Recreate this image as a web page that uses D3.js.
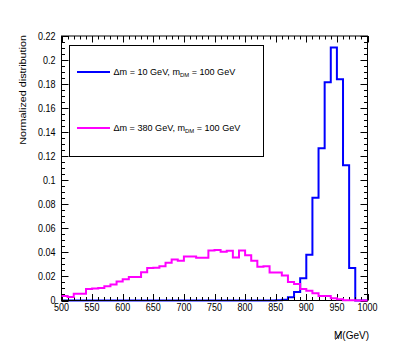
<!DOCTYPE html>
<html>
<head>
<meta charset="utf-8">
<script src="https://cdn.jsdelivr.net/npm/d3@7"></script>
<style>
html,body{margin:0;padding:0;background:#fff;}
svg{display:block;}
text{font-family:"Liberation Sans",Arial,Helvetica,sans-serif;fill:#000;}
</style>
</head>
<body>
<svg id="chart" width="409" height="354"></svg>
<script>
// ---- data ----
const binEdges = d3.range(500, 1001, 10); // 50 bins of 10 GeV
const seriesNames = ["\u0394m = 10 GeV, m", "\u0394m = 380 GeV, m"];
const seriesColors = ["#0000ff", "#ff00ff"];
const blueValues = [
  0,0,0,0,0,0,0,0,0,0,
  0,0,0,0,0,0,0,0,0,0,
  0,0,0,0,0,0,0,0,0,0,
  0,0,0,0,0,0.0002,0.0006,0.0027,0.0070,0.0185,
  0.0380,0.0855,0.1266,0.1815,0.2105,0.1840,0.1125,0.0270,0,0
];
const pinkValues = [
  0.0037,0.0030,0.0057,0.0057,0.0096,0.0100,0.0104,0.0118,0.0134,0.0157,
  0.0176,0.0195,0.0195,0.0234,0.0270,0.0273,0.0285,0.0313,0.0340,0.0331,
  0.0365,0.0365,0.0356,0.0356,0.0415,0.0420,0.0406,0.0414,0.0357,0.0415,
  0.0376,0.0331,0.0280,0.0284,0.0232,0.0232,0.0207,0.0154,0.0137,0.0095,
  0.0082,0.0061,0.0037,0.0037,0.0018,0.0011,0.0003,0.0002,0.0001,0.0001
];
const xTickLabels = [500,550,600,650,700,750,800,850,900,950,1000];
const yTickValues = [0,0.02,0.04,0.06,0.08,0.1,0.12,0.14,0.16,0.18,0.2,0.22];
const yTickLabels = ["0","0.02","0.04","0.06","0.08","0.1","0.12","0.14","0.16","0.18","0.2","0.22"];
const yTitle = "Normalized distribution";
const xTitleMain = "M";
const xTitleUnit = "(GeV)";

// ---- layout ----
const svg = d3.select("#chart");
const L = 61.5, R = 367.5, T = 36, B = 300.5;
const x = d3.scaleLinear().domain([500, 1000]).range([L, R]);
const y = d3.scaleLinear().domain([0, 0.22]).range([B, T]);

function histPath(values) {
  const pts = values.map((v, i) => [binEdges[i], v]);
  pts.push([binEdges[values.length], values[values.length - 1]]);
  return d3.line().x(d => x(d[0])).y(d => y(d[1])).curve(d3.curveStepAfter)(pts);
}

// blue histogram (drawn first)
svg.append("path").attr("d", histPath(blueValues))
  .attr("fill", "none").attr("stroke", seriesColors[0]).attr("stroke-width", 2);

// frame
svg.append("rect").attr("x", L).attr("y", T).attr("width", R - L).attr("height", B - T)
  .attr("fill", "none").attr("stroke", "#000").attr("stroke-width", 1);

// ticks
const tk = svg.append("g").attr("stroke", "#000").attr("stroke-width", 1);
d3.range(500, 1001, 10).forEach(v => {
  const major = v % 50 === 0;
  const len = major ? 6.5 : 3.5;
  const px = Math.round(x(v)) + 0.5;
  tk.append("line").attr("x1", px).attr("x2", px).attr("y1", B).attr("y2", B - len);
  tk.append("line").attr("x1", px).attr("x2", px).attr("y1", T).attr("y2", T + len);
});
d3.range(0, 45).forEach(i => {
  const v = i * 0.005;
  if (v > 0.2201) return;
  const major = i % 4 === 0;
  const len = major ? 7 : 3.5;
  const py = Math.round(y(v)) + 0.5;
  tk.append("line").attr("x1", L).attr("x2", L + len).attr("y1", py).attr("y2", py);
  tk.append("line").attr("x1", R).attr("x2", R - len).attr("y1", py).attr("y2", py);
});

// pink histogram (drawn on top)
svg.append("path").attr("d", histPath(pinkValues))
  .attr("fill", "none").attr("stroke", seriesColors[1]).attr("stroke-width", 2);

// tick labels
xTickLabels.forEach(v => {
  svg.append("text").attr("x", x(v)).attr("y", 311).attr("text-anchor", "middle")
    .attr("font-size", 10)
    .attr("transform", `translate(${x(v)},0) scale(0.9,1) translate(${-x(v)},0)`)
    .text(v);
});
yTickValues.forEach((v, i) => {
  svg.append("text").attr("x", 55.5).attr("y", y(v) + 3.6).attr("text-anchor", "end")
    .attr("font-size", 10)
    .attr("transform", `translate(55.5,0) scale(0.9,1) translate(-55.5,0)`)
    .text(yTickLabels[i]);
});

// axis titles
const yt = svg.append("text").attr("text-anchor", "end").attr("font-size", 9.5)
  .attr("transform", "translate(26,35) rotate(-90)").text(yTitle);
{
  const w = yt.node().getComputedTextLength();
  yt.attr("transform", `translate(26,35) rotate(-90) scale(${110 / w},1)`);
}
// x title: slashed M followed by unit
const xt = svg.append("text").attr("x", 369).attr("y", 339).attr("text-anchor", "end")
  .attr("font-size", 10);
xt.append("tspan").text(xTitleMain);
xt.append("tspan").text(xTitleUnit);
{
  const bb = xt.node().getBBox();
  const mW = xt.node().getSubStringLength(0, 1);
  // slash drawn across the M
  svg.append("line")
    .attr("x1", bb.x + 1.5).attr("y1", 339.5)
    .attr("x2", bb.x + mW - 0.5).attr("y2", 331.5)
    .attr("stroke", "#000").attr("stroke-width", 1);
}

// legend
const lg = svg.append("g");
lg.append("rect").attr("x", 69.5).attr("y", 45.5).attr("width", 194).attr("height", 111)
  .attr("fill", "#fff").attr("stroke", "#000").attr("stroke-width", 1);
const legY = [72, 128];
const legTarget = [122, 127];
seriesNames.forEach((name, i) => {
  lg.append("line").attr("x1", 77).attr("x2", 110).attr("y1", legY[i]).attr("y2", legY[i])
    .attr("stroke", seriesColors[i]).attr("stroke-width", 2);
  const t = lg.append("text").attr("x", 113.5).attr("y", legY[i] + 3).attr("font-size", 8.5);
  t.append("tspan").text(name);
  t.append("tspan").attr("font-size", 5.5).attr("dy", 2).text("DM");
  t.append("tspan").attr("dy", -2).text(" = 100 GeV");
  const w = t.node().getComputedTextLength();
  t.attr("transform", `translate(113.5,0) scale(${legTarget[i] / w},1) translate(-113.5,0)`);
});
</script>
</body>
</html>
